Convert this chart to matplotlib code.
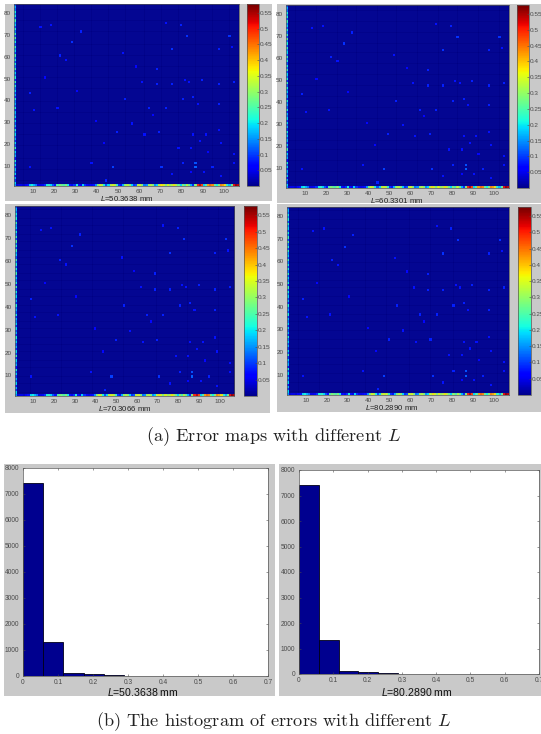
import matplotlib
matplotlib.use('agg')
import matplotlib.pyplot as plt
import numpy as np
from matplotlib.patches import Rectangle

W, H = 541, 734
GRAY = '#c9c9c9'
TXT = '#4a4a4a'

plt.rcParams['font.family'] = ['Liberation Sans', 'DejaVu Sans']
plt.rcParams['mathtext.fontset'] = 'custom'
plt.rcParams['mathtext.it'] = 'Liberation Sans:italic'

map_labels = ['50.3638', '60.3301', '70.3066', '80.2890']
hist_labels = ['50.3638', '80.2890']
base_error = 0.004
vmax = 0.578
cbar_ticks = [0.05, 0.1, 0.15, 0.2, 0.25, 0.3, 0.35, 0.4, 0.45, 0.5, 0.55]
cbar_ticklabels = ['0.05', '0.1', '0.15', '0.2', '0.25', '0.3', '0.35', '0.4', '0.45', '0.5', '0.55']

# bottom row of the maps, x = 1..106
bottom_row = [0.16, 0.04, 0.05, 0.05, 0.04, 0.06, 0.08, 0.20, 0.22, 0.18, 0.14, 0.05, 0.05, 0.06, 0.10, 0.22,
              0.24, 0.20, 0.12, 0.08, 0.26, 0.30, 0.28, 0.26, 0.30, 0.22, 0.08, 0.06, 0.10, 0.22, 0.08, 0.06,
              0.20, 0.10, 0.06, 0.05, 0.06, 0.08, 0.16, 0.30, 0.36, 0.34, 0.22, 0.12, 0.20, 0.34, 0.36, 0.34,
              0.24, 0.10, 0.08, 0.18, 0.30, 0.34, 0.30, 0.20, 0.10, 0.12, 0.34, 0.36, 0.30, 0.14, 0.16, 0.32,
              0.34, 0.30, 0.16, 0.20, 0.34, 0.38, 0.36, 0.30, 0.36, 0.32, 0.34, 0.38, 0.34, 0.28, 0.20, 0.30,
              0.26, 0.34, 0.28, 0.18, 0.10, 0.30, 0.50, 0.54, 0.48, 0.20, 0.26, 0.42, 0.46, 0.44, 0.28, 0.22,
              0.30, 0.44, 0.42, 0.38, 0.24, 0.18, 0.28, 0.52, 0.57, 0.55]

# left column of the maps, y = 1..83
left_col = [0.16, 0.20, 0.10, 0.18, 0.08, 0.20, 0.12, 0.18, 0.10, 0.20, 0.12, 0.22, 0.08, 0.18, 0.14, 0.20,
            0.10, 0.24, 0.12, 0.20, 0.10, 0.18, 0.12, 0.20, 0.14, 0.22, 0.10, 0.18, 0.12, 0.20, 0.10, 0.20,
            0.14, 0.18, 0.10, 0.22, 0.12, 0.18, 0.14, 0.22, 0.10, 0.18, 0.12, 0.20, 0.14, 0.22, 0.12, 0.24,
            0.10, 0.22, 0.14, 0.20, 0.12, 0.24, 0.14, 0.22, 0.12, 0.22, 0.14, 0.24, 0.12, 0.20, 0.16, 0.24,
            0.12, 0.22, 0.14, 0.26, 0.12, 0.24, 0.14, 0.22, 0.12, 0.20, 0.16, 0.24, 0.12, 0.22, 0.16, 0.22,
            0.14, 0.18, 0.12]

# brighter spots inside the maps
spot_x = [28, 32, 13, 18, 22, 25, 79, 82, 102, 72, 97, 103, 75, 52, 68, 61, 68, 75, 81, 83, 89, 97, 104, 53, 80,
          85, 87, 97, 72, 64, 21, 10, 8, 49, 56, 62, 69, 85, 91, 88, 78, 84, 97, 98, 104, 86, 86, 80, 70, 47, 8,
          37, 94, 104, 90, 75, 84, 44, 98, 39, 58, 43, 66, 30, 15, 92]
spot_y = [66, 71, 73, 74, 60, 58, 74, 69, 69, 75, 63, 64, 63, 61, 54, 48, 47, 47, 49, 48, 49, 47, 48, 40, 40,
          41, 38, 38, 36, 36, 36, 35, 43, 25, 29, 24, 25, 24, 24, 21, 18, 18, 26, 20, 15, 11, 9, 11, 9, 9, 9,
          11, 9, 11, 7, 6, 7, 3, 5, 30, 55, 20, 33, 44, 50, 16]
spot_v = [.10, .09, .08, .08, .09, .08, .09, .10, .10, .08, .09, .08, .10, .08, .09, .08, .09, .09, .08, .08, .09,
          .09, .09, .09, .09, .09, .08, .09, .09, .09, .08, .08, .09, .09, .08, .08, .09, .08, .08, .08, .08,
          .08, .08, .08, .08, .12, .13, .09, .10, .11, .08, .08, .09, .08, .08, .08, .07, .09, .08, .07, .07,
          .07, .07, .07, .07, .07]

# histogram, same bins in both panels
bin_edges = [0.0, 0.0578, 0.1156, 0.1734, 0.2312, 0.289, 0.3468, 0.4046, 0.4624, 0.5202, 0.578]
hist_left = [7430, 1310, 110, 75, 35, 15, 10, 8, 6, 4]
hist_right = [7420, 1330, 105, 80, 35, 15, 10, 8, 6, 4]
hist_xticks = [0, 0.1, 0.2, 0.3, 0.4, 0.5, 0.6, 0.7]
hist_xticklabels = ['0', '0.1', '0.2', '0.3', '0.4', '0.5', '0.6', '0.7']
hist_yticks = [0, 1000, 2000, 3000, 4000, 5000, 6000, 7000, 8000]


def px_axes(fig, left, top, right, bottom):
    return fig.add_axes([left / W, 1 - bottom / H, (right - left) / W, (bottom - top) / H])


def frame(fig, left, top, right, bottom):
    fig.add_artist(Rectangle((left / W, 1 - bottom / H), (right - left) / W, (bottom - top) / H,
                             transform=fig.transFigure, fc=GRAY, ec='none', zorder=-5))


def style(ax, size=4.6, pad=2.3):
    ax.tick_params(direction='in', length=1.5, width=0.4, labelsize=size, pad=pad,
                   colors=TXT, top=False, right=False)
    for s in ax.spines.values():
        s.set_linewidth(0.5)
        s.set_color('#555555')


def error_map(fig, box, cbox, label, label_xy):
    frame(fig, *box[0])
    ax = px_axes(fig, *box[1])
    z = np.full((83, 106), base_error)
    z[np.array(spot_y) - 1, np.array(spot_x) - 1] = spot_v
    z[:, 0] = left_col
    z[0, :] = bottom_row
    im = ax.imshow(z, origin='lower', extent=(1, 107, 1, 84), aspect='auto', cmap='jet',
                   vmin=0, vmax=vmax, interpolation='nearest')
    # faint cell mesh
    ax.vlines(np.arange(2, 107), 1, 84, color='#2a3cff', linewidth=0.3, alpha=0.3)
    ax.hlines(np.arange(2, 84), 1, 107, color='#2a3cff', linewidth=0.3, alpha=0.3)
    ax.set_xlim(1, 107)
    ax.set_ylim(1, 84)
    ax.set_xticks(range(10, 101, 10))
    ax.set_yticks(range(10, 81, 10))
    style(ax)
    ax.tick_params(length=0)
    cax = px_axes(fig, *cbox)
    cb = fig.colorbar(im, cax=cax)
    cb.solids.set_edgecolor('face')
    cb.set_ticks(cbar_ticks)
    cb.set_ticklabels(cbar_ticklabels)
    style(cax)
    cax.tick_params(right=True, direction='in', length=1.5, pad=0.5)
    fig.text(label_xy[0] / W, 1 - label_xy[1] / H, r'$L$=' + label + ' mm',
             fontsize=5.6, color='#222222', ha='center', va='center')


def hist_panel(fig, outer, inner, counts, label, label_xy):
    frame(fig, *outer)
    ax = px_axes(fig, *inner)
    edges = np.array(bin_edges)
    ax.bar(edges[:-1], counts, width=np.diff(edges), align='edge', color='#00008f',
           edgecolor='#000018', linewidth=0.6)
    ax.set_xlim(0, 0.7)
    ax.set_ylim(0, 8000)
    ax.set_xticks(hist_xticks)
    ax.set_xticklabels(hist_xticklabels)
    ax.set_yticks(hist_yticks)
    style(ax, 4.8, 2.5)
    ax.tick_params(top=True, right=True, length=1.5)
    fig.text(label_xy[0] / W, 1 - label_xy[1] / H, r'$L$=' + label + ' mm',
             fontsize=7.6, color='#111111', ha='center', va='center')


fig = plt.figure(figsize=(W / 100, H / 100), dpi=100, facecolor='white')

error_map(fig, ((5, 4, 272, 201), (14, 4, 239, 186)), (247, 4, 259, 186), map_labels[0], (127, 198.5))
error_map(fig, ((277, 4, 541, 203), (286, 5, 509, 188)), (517, 5, 529, 188), map_labels[1], (397, 200.5))
error_map(fig, ((5, 204, 270, 413), (15, 206, 234, 396)), (244, 206, 257, 396), map_labels[2], (125, 409))
error_map(fig, ((277, 204, 541, 412), (287, 207, 509, 395)), (518, 207, 531, 395), map_labels[3], (392, 407.5))

hist_panel(fig, (4, 464, 275, 696), (23, 468, 268, 676), hist_left, hist_labels[0], (143, 692))
hist_panel(fig, (279, 464, 541, 696), (299, 470, 539, 674), hist_right, hist_labels[1], (417, 692))

fig.text(274 / W, 1 - 437 / H, r'(a) Error maps with different $L$', family='cmr10', math_fontfamily='cm',
         fontsize=13.2, ha='center', va='center', color='#222222')
fig.text(274 / W, 1 - 722 / H, r'(b) The histogram of errors with different $L$', family='cmr10',
         math_fontfamily='cm', fontsize=13.2, ha='center', va='center', color='#222222')

fig.savefig('out.png', dpi=100)
